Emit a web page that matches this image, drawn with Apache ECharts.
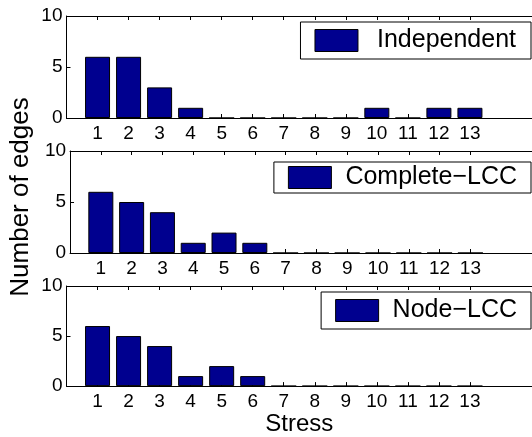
<!DOCTYPE html>
<html><head><meta charset="utf-8">
<script src="https://cdn.jsdelivr.net/npm/echarts@6/dist/echarts.min.js"></script>
<style>html,body{margin:0;padding:0;background:#fff}#c{width:532px;height:437px}</style>
</head><body><div id="c"></div>
<script>
const stress = [1,2,3,4,5,6,7,8,9,10,11,12,13];
const independent = [6,6,3,1,0,0,0,0,0,1,0,1,1];
const completeLCC = [6,5,4,1,2,1,0,0,0,0,0,0,0];
const nodeLCC = [6,5,4,1,2,1,0,0,0,0,0,0,0];
const seriesNames = ['Independent','Complete\u2212LCC','Node\u2212LCC'];
const yTicks = [0,5,10];
const xLimits = [0,15];
const yLimits = [0,10];

const FONT = 'Liberation Sans, Arial, Helvetica, sans-serif';
const BAR = '#00008F';
const tops = [16,151,286];
const legendTops = [22,162,292];
const legendPad = [[6,15,6,14],[3,14,3,14],[6,14,6,14]];
const legendTextGap = [14,9,9];
const values = [independent, completeLCC, nodeLCC];

const grids = [], xAxes = [], yAxes = [], series = [], legends = [];
for (let i = 0; i < 3; i++) {
  grids.push({left: 66.5, right: -4.5, top: tops[i], height: 102});
  const xBase = {
    type: 'value', gridIndex: i, min: xLimits[0], max: xLimits[1], interval: 1,
    axisLine: {show: true, onZero: false, lineStyle: {color: '#000', width: 1}},
    axisTick: {show: true, inside: true, length: 4, customValues: stress, lineStyle: {color: '#000'}},
    splitLine: {show: false}
  };
  xAxes.push(Object.assign({}, xBase, {
    position: 'bottom',
    axisLabel: {show: true, customValues: stress, color: '#000', fontSize: 19, fontFamily: FONT, margin: 6},
    name: i === 2 ? 'Stress' : '', nameLocation: 'middle', nameGap: 24,
    nameTextStyle: {color: '#000', fontSize: 24, fontFamily: FONT}
  }));
  xAxes.push(Object.assign({}, xBase, {position: 'top', axisLabel: {show: false}}));
  yAxes.push({
    type: 'value', gridIndex: i, min: yLimits[0], max: yLimits[1], interval: 5,
    axisLine: {show: true, lineStyle: {color: '#000', width: 1}},
    axisTick: {show: true, inside: true, length: 4, customValues: yTicks, lineStyle: {color: '#000'}},
    axisLabel: {color: '#000', fontSize: 19, fontFamily: FONT, margin: 4, customValues: yTicks},
    splitLine: {show: false},
    name: i === 1 ? 'Number of edges' : '', nameLocation: 'middle', nameGap: 33,
    nameTextStyle: {color: '#000', fontSize: 26, fontFamily: FONT, padding: [0,0,0,10]}
  });
  series.push({
    type: 'bar', name: seriesNames[i], xAxisIndex: 2*i, yAxisIndex: i,
    data: stress.map((s, k) => [s, values[i][k]]),
    barWidth: 25,
    itemStyle: {color: BAR, borderColor: '#000', borderWidth: 1},
    emphasis: {disabled: true},
    animation: false
  });
  legends.push({
    data: [seriesNames[i]], right: 1, top: legendTops[i], orient: 'horizontal',
    padding: legendPad[i], itemWidth: 43, itemHeight: 22,
    borderColor: '#000', borderWidth: 1, backgroundColor: '#fff',
    icon: 'rect', selectedMode: false,
    itemStyle: {color: BAR, borderColor: '#000', borderWidth: 1},
    textStyle: {color: '#000', fontSize: 25, fontFamily: FONT, padding: [0,0,0,legendTextGap[i]], lineHeight: 22}
  });
}

const chart = echarts.init(document.getElementById('c'), null, {renderer: 'canvas'});
chart.setOption({
  animation: false,
  backgroundColor: '#fff',
  grid: grids, xAxis: xAxes, yAxis: yAxes, series: series, legend: legends
});
</script></body></html>
